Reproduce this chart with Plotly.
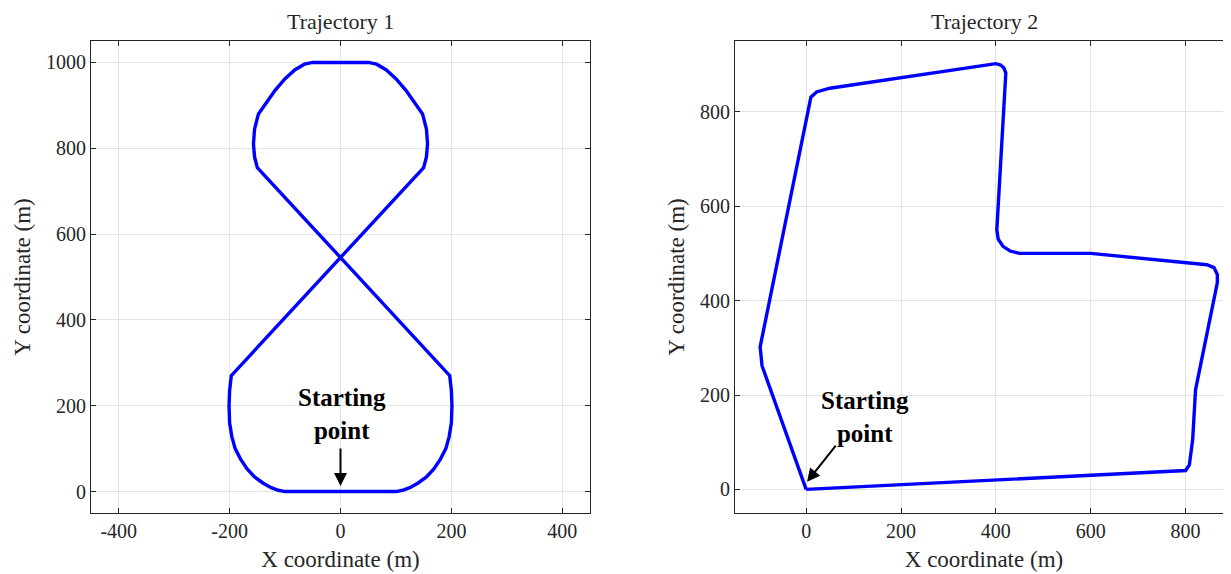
import plotly.graph_objects as go

# ---------------- data ----------------
traj1_x = [0, 100, 112, 125, 140, 155, 168, 180, 190, 196, 200, 201, 200, 197,
           -150, -155, -157, -155, -148, -135, -118, -100, -82, -65, -50,
           50, 65, 82, 100, 118, 135, 148, 155, 157, 155, 150,
           -197, -200, -201, -200, -196, -190, -180, -168, -155, -140, -125, -112, -100, 0]
traj1_y = [0, 0, 3, 9, 20, 34, 52, 75, 100, 128, 160, 200, 235, 270,
           755, 780, 810, 845, 880, 905, 935, 962, 983, 996, 1000,
           1000, 996, 983, 962, 935, 905, 880, 845, 810, 780, 755,
           270, 235, 200, 160, 128, 100, 75, 52, 34, 20, 9, 3, 0, 0]

traj2_x = [0, 800, 808, 815, 821, 867, 867, 860, 845, 600, 450, 430, 415, 405, 402,
           420, 421, 417, 410, 400, 50, 22, 10, -97, -93, 0]
traj2_y = [0, 40, 52, 106, 211, 438, 455, 470, 476, 500, 500, 505, 515, 530, 550,
           870, 882, 893, 899, 902, 850, 842, 831, 302, 262, 0]

titles = ["Trajectory 1", "Trajectory 2"]
x_label = "X coordinate (m)"
y_label = "Y coordinate (m)"
x1_ticks = [-400, -200, 0, 200, 400]
y1_ticks = [0, 200, 400, 600, 800, 1000]
x2_ticks = [0, 200, 400, 600, 800]
y2_ticks = [0, 200, 400, 600, 800]
start_label = "Starting<br>point"

# ---------------- figure ----------------
W, H = 1231, 574
OFF = 8  # page body margin
FONT = "Liberation Serif"
AX = "#262626"
GRID = "#e3e3e3"
LINE = "#0000ff"

fig = go.Figure()
fig.add_trace(go.Scatter(x=traj1_x, y=traj1_y, mode="lines",
                         line=dict(color=LINE, width=3.4), xaxis="x", yaxis="y",
                         showlegend=False, hoverinfo="skip"))
fig.add_trace(go.Scatter(x=traj2_x, y=traj2_y, mode="lines",
                         line=dict(color=LINE, width=3.4), xaxis="x2", yaxis="y2",
                         showlegend=False, hoverinfo="skip"))

def axis(rng, ticks, domain, anchor, title, standoff):
    return dict(range=rng, tickvals=ticks, ticktext=[str(t) for t in ticks],
                domain=domain, anchor=anchor, showgrid=True, gridcolor=GRID,
                gridwidth=1, zeroline=False, showline=True, linecolor=AX,
                linewidth=1, mirror="ticks", ticks="inside", ticklen=5,
                tickcolor=AX, tickfont=dict(family=FONT, size=20, color=AX),
                title=dict(text=title, font=dict(family=FONT, size=23, color=AX),
                           standoff=standoff))

fig.update_layout(
    width=W, height=H, autosize=False,
    margin=dict(l=0, r=0, t=41 - OFF, b=H - (513 - OFF)),
    paper_bgcolor="white", plot_bgcolor="white",
    xaxis=axis([-450, 450], x1_ticks, [(91 - OFF) / W, (590 - OFF) / W], "y", x_label, 9),
    yaxis=axis([-50, 1050], y1_ticks, [0, 1], "x", y_label, 8),
    xaxis2=axis([-150, 900], x2_ticks, [(735 - OFF) / W, (1233 - OFF) / W], "y2", x_label, 9),
    yaxis2=axis([-50, 950], y2_ticks, [0, 1], "x2", y_label, 8),
)

# titles
fig.add_annotation(text=titles[0], xref="x domain", yref="paper", x=0.5, y=1,
                   yshift=5, yanchor="bottom", showarrow=False,
                   font=dict(family=FONT, size=22, color=AX))
fig.add_annotation(text=titles[1], xref="x2 domain", yref="paper", x=0.5, y=1,
                   yshift=5, yanchor="bottom", showarrow=False,
                   font=dict(family=FONT, size=22, color=AX))

# Starting point labels
fig.add_annotation(text="<b>" + start_label + "</b>", xref="x", yref="y",
                   x=2, y=181, showarrow=False,
                   font=dict(family=FONT, size=25, color="black"))
fig.add_annotation(xref="x", yref="y", axref="x", ayref="y",
                   x=0, y=13, ax=0, ay=104, text="", showarrow=True,
                   arrowhead=2, arrowsize=1.3, arrowwidth=2, arrowcolor="black")
fig.add_annotation(text="<b>" + start_label + "</b>", xref="x2", yref="y2",
                   x=124, y=153, showarrow=False,
                   font=dict(family=FONT, size=25, color="black"))
fig.add_annotation(xref="x2", yref="y2", axref="x2", ayref="y2",
                   x=2, y=16, ax=65, ay=96, text="", showarrow=True,
                   arrowhead=2, arrowsize=1.3, arrowwidth=2, arrowcolor="black")

fig.write_html("out.html")
